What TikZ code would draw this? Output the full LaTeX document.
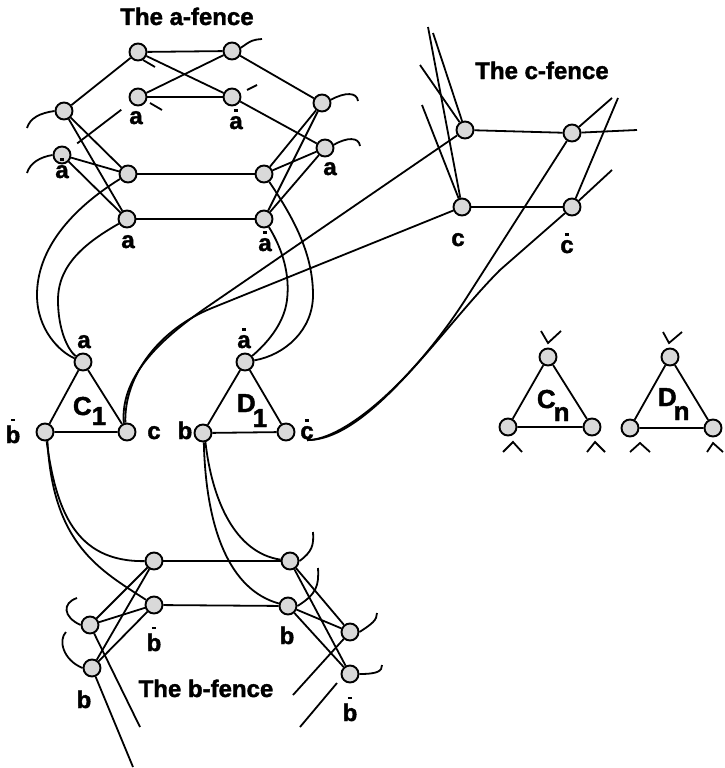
\documentclass[tikz,border=0pt]{standalone}
\usepackage{fontspec}
\setmainfont{Liberation Sans}[BoldFeatures={FakeBold=1.6}]
\usetikzlibrary{calc}
% short bar set above a letter
\newdimen\barraise
\newcommand\ovl[1]{\setbox0\hbox{#1}\barraise=\dimexpr\ht0+4.5pt\relax\rlap{\hbox to\wd0{\hss\vrule width 4.5pt height \dimexpr\barraise+2.3pt\relax depth -\barraise\hss}}\box0}
\begin{document}
\begin{tikzpicture}[x=1pt,y=-1pt,line width=1.8pt,
  vtx/.style={circle,draw,line width=1.9pt,fill=gray!30,minimum size=17pt,inner sep=0pt},
  lbl/.style={font=\fontsize{24}{24}\bfseries\selectfont,inner sep=0pt,anchor=base},
  big/.style={font=\fontsize{26}{26}\bfseries\selectfont,inner sep=0pt,anchor=base west}]
\useasboundingbox (0,0) rectangle (725,768);

% ---------- the a-fence ----------
\node[vtx] (aT1) at (138,52) {};
\node[vtx] (aT2) at (232,51) {};
\node[vtx] (aM1) at (138,97) {};
\node[vtx] (aM2) at (232,97) {};
\node[vtx] (aL1) at (64,111) {};
\node[vtx] (aL2) at (62,155) {};
\node[vtx] (aR1) at (322,103) {};
\node[vtx] (aR2) at (325,148) {};
\node[vtx] (aC1) at (128,174) {};
\node[vtx] (aC2) at (264,174) {};
\node[vtx] (aD1) at (127,219) {};
\node[vtx] (aD2) at (264,219) {};

\node[lbl] (ta) at (187,25) {The a-fence};
\node[lbl] (lM1) at (136,124) {a};
\node[lbl] (lM2) at (236,129) {\ovl{a}};
\node[lbl] (lL2) at (62,178) {\ovl{a}};
\node[lbl] (lR2) at (330,175) {a};
\node[lbl] (lD1) at (128,248) {a};
\node[lbl] (lD2) at (265,251) {\ovl{a}};

\draw (aT1) -- (aT2);
\draw (aT1) -- (aM2);
\draw (aT2) -- (aM1);
\draw (aM1) -- (aM2);
\draw (aT1) -- (aL1);
\draw (aT2) -- (aR1);
\draw (aM2) -- (aR2);
\draw (aL1) -- (aC1);
\draw (aL1) -- (aD1);
\draw (aL2) -- (aC1);
\draw (aL2) -- (aD1);
\draw (aR1) -- (aC2);
\draw (aR1) -- (aD2);
\draw (aR2) -- (aC2);
\draw (aR2) -- (aD2);
\draw (aC1) -- (aC2);
\draw (aD1) -- (aD2);
\draw ($(aL2)!0.2!(aM1)$) -- ($(aL2)!0.78!(aM1)$);
% loose ends of the a-fence
\draw (143,60) -- (155,67);
\draw (150,103) -- (162,110);
\draw (aT2.20) .. controls (252,40) .. (262,39);
\draw (247,90) -- (257,85);
\draw (aR1.20) .. controls (345,92) and (357,92) .. (358,101);
\draw (aR2.20) .. controls (347,137) and (359,137) .. (360,146);
\draw (aL1.west) .. controls (40,113) and (30,118) .. (27,128);
\draw (aL2.west) .. controls (40,157) and (30,163) .. (27,173);

% ---------- the c-fence ----------
\node[vtx] (cTL) at (465,130) {};
\node[vtx] (cTR) at (572,133) {};
\node[vtx] (cBL) at (462,207) {};
\node[vtx] (cBR) at (572,207) {};
\node[lbl] (tc) at (542,79) {The c-fence};
\node[lbl] (lc) at (458,246) {c};
\node[lbl] (lcb) at (567,253) {\ovl{c}};

\draw (cTL) -- (cTR);
\draw (cBL) -- (cBR);
\draw (cBL) -- (428,27);
\draw (cTL) -- (433,33);
\draw (cTL) -- (420,65);
\draw (cBL) -- (422,105);
\draw (cTR) -- (612,98);
\draw (cTR) -- (637,130);
\draw (cBR) -- (618,98);
\draw (cBR) -- (612,170);

% ---------- triangle C1 ----------
\node[vtx] (Ca) at (83,362) {};
\node[vtx] (Cb) at (45,432) {};
\node[vtx] (Cc) at (127,432) {};
\node[lbl] (lCa) at (84,348) {a};
\node[lbl] (lCb) at (13,443) {\ovl{b}};
\node[lbl] (lCc) at (154,439) {c};
\node[big] (C1t) at (72,415) {C\raisebox{-10pt}{1}};
\draw (Ca) -- (Cb) -- (Cc) -- (Ca);

% ---------- triangle D1 ----------
\node[vtx] (Da) at (245,362) {};
\node[vtx] (Db) at (203,433) {};
\node[vtx] (Dc) at (286,432) {};
\node[lbl] (lDa) at (244,348) {\ovl{a}};
\node[lbl] (lDb) at (185,439) {b};
\node[lbl] (Dcl) at (307,439) {\ovl{c}};
\node[big] (D1t) at (236,412) {D\kern-3pt\raisebox{-15pt}{1}};
\draw (Da) -- (Db) -- (Dc) -- (Da);

% ---------- triangles Cn and Dn ----------
\node[vtx] (Cnt) at (548,357) {};
\node[vtx] (Cnl) at (508,427) {};
\node[vtx] (Cnr) at (592,427) {};
\node[big] (Cnlab) at (536,408) {C\kern-2pt\raisebox{-13pt}{n}};
\draw (Cnt) -- (Cnl) -- (Cnr) -- (Cnt);
\draw (541,331) -- (548,343) -- (561,331);
\draw (503,452) -- (513,442) -- (522,452);
\draw (587,452) -- (595,442) -- (605,452);

\node[vtx] (Dnt) at (670,357) {};
\node[vtx] (Dnl) at (630,428) {};
\node[vtx] (Dnr) at (713,428) {};
\node[big] (Dnlab) at (657,406) {D\kern-3pt\raisebox{-14pt}{n}};
\draw (Dnt) -- (Dnl) -- (Dnr) -- (Dnt);
\draw (663,332) -- (669,343) -- (682,332);
\draw (630,452) -- (640,443) -- (650,452);
\draw (707,452) -- (713,443) -- (723,452);

% ---------- the b-fence ----------
\node[vtx] (bTL) at (154,561) {};
\node[vtx] (bTR) at (290,561) {};
\node[vtx] (bML) at (154,605) {};
\node[vtx] (bMR) at (288,606) {};
\node[vtx] (bL1) at (90,625) {};
\node[vtx] (bL2) at (92,668) {};
\node[vtx] (bR1) at (350,632) {};
\node[vtx] (bR2) at (350,674) {};
\node[lbl] (tb) at (206,697) {The b-fence};
\node[lbl] (lbML) at (154,651) {\ovl{b}};
\node[lbl] (lbMR) at (287,644) {b};
\node[lbl] (lbL2) at (84,708) {b};
\node[lbl] (lbR2) at (350,721) {\ovl{b}};

\draw (bTL) -- (bTR);
\draw (bML) -- (bMR);
\draw (bTL) -- (bL1);
\draw (bTL) -- (bL2);
\draw (bML) -- (bL1);
\draw (bML) -- (bL2);
\draw (bTR) -- (bR1);
\draw (bTR) -- (bR2);
\draw (bMR) -- (bR1);
\draw (bMR) -- (bR2);
% loose ends of the b-fence
\draw (bL1) -- (140,727);
\draw (bL2) -- (133,767);
\draw (bR1) -- (293,695);
\draw (337,683) -- (300,727);
\draw (bL1.west) .. controls (63,617) and (62,603) .. (77,598);
\draw (bL2.west) .. controls (63,660) and (58,640) .. (66,632);
\draw (bTR.east) .. controls (312,552) and (314,545) .. (313,532);
\draw (bMR.east) .. controls (317,594) and (319,585) .. (318,568);
\draw (bR1.east) .. controls (372,624) and (377,620) .. (377,613);
\draw (bR2.east) .. controls (378,674) and (382,671) .. (382,665);

% ---------- long links between the parts ----------
\draw (aC1) .. controls (70,210) and (37,250) .. (37,295) .. controls (37,330) and (60,352) .. (Ca);
\draw (aD1) .. controls (85,243) and (58,265) .. (58,300) .. controls (58,330) and (68,350) .. (Ca);
\draw (aC2) .. controls (295,220) and (313,255) .. (313,295) .. controls (313,330) and (285,355) .. (Da);
\draw (aD2) .. controls (283,250) and (290,275) .. (287,300) .. controls (284,325) and (265,345) .. (Da);

\draw (Cc.110) .. controls (120,375) and (163,337) .. (210,305) -- (cTL);
\draw (Cc.100) .. controls (124,375) and (160,329) .. (212,308) -- (cBL);
\draw (Dcl.south) .. controls (345,440) and (414,380) .. (467,297) -- (cTR);
\draw (Dcl.south) .. controls (370,440) and (440,330) .. (500,270) -- (cBR);

\draw (Cb.-80) .. controls (56,510) and (75,562) .. (bTL);
\draw (Cb.-75) .. controls (53,545) and (100,570) .. (bML);
\draw (Db.-75) .. controls (212,500) and (235,553) .. (bTR);
\draw (Db.-85) .. controls (206,530) and (230,590) .. (bMR);
\end{tikzpicture}
\end{document}
